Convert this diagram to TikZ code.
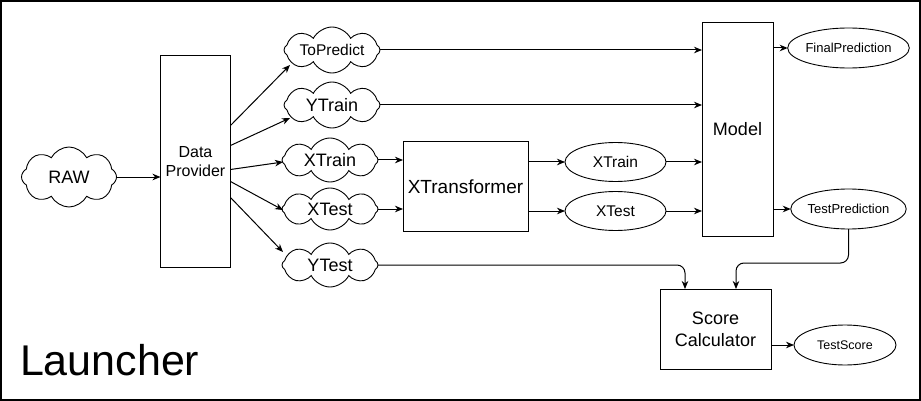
\documentclass[tikz,border=0pt]{standalone}
\usepackage{fontspec}
\setmainfont{Liberation Sans}
\usetikzlibrary{shapes.symbols,shapes.geometric,arrows.meta,calc}
\begin{document}
\begin{tikzpicture}[x=1pt,y=-1pt,
  every node/.style={inner sep=0pt, outer sep=0pt},
  box/.style={draw, line width=1pt, align=center},
  cld/.style={draw, cloud, cloud puffs=8, cloud puff arc=125, cloud ignores aspect, minimum width=96pt, minimum height=44pt, line width=0.9pt},
  oval/.style={draw, ellipse, minimum width=101pt, minimum height=39pt, line width=0.9pt},
  arr/.style={line width=1pt, -{Stealth[length=8pt,width=6.5pt,inset=2.5pt]}},
  fa/.style={font=\fontsize{18}{21}\selectfont},
  fb/.style={font=\fontsize{15.5}{18}\selectfont},
  fc/.style={font=\fontsize{16}{19}\selectfont},
  fd/.style={font=\fontsize{19}{22}\selectfont},
  fe/.style={font=\fontsize{13}{15}\selectfont},
  ff/.style={font=\fontsize{12.5}{15}\selectfont},
  fsc/.style={font=\fontsize{18}{22}\selectfont}
]
\useasboundingbox (0,0) rectangle (921,401);
\draw[line width=1.2pt] (1,1) rectangle (920,400);

\node[cld, fa, minimum width=95pt, minimum height=60pt] (raw) at (69,177) {RAW};
\node[box, fc, minimum width=70pt, minimum height=212pt] (dp) at (195.5,161.5) {Data\\Provider};

\node[cld, fb, minimum height=46pt] (tp) at (332,50) {ToPredict};
\node[cld, fa, minimum height=46pt] (yt) at (332,105) {YTrain};
\node[cld, fa] (xt) at (330,160) {XTrain};
\node[cld, fa, minimum height=42pt] (xs) at (330,209) {XTest};
\node[cld, fa] (ys) at (330,265) {YTest};

\node[box, fd, minimum width=125pt, minimum height=89pt] (xtr) at (465.5,186.5) {XTransformer};
\node[oval, fb] (e1) at (615.5,162) {XTrain};
\node[oval, fb] (e2) at (615.5,211) {XTest};
\node[box, fa, minimum width=71pt, minimum height=213pt] (model) at (737.5,129.5) {Model};
\node[oval, fe, minimum height=40pt] (fp) at (848.5,48) {FinalPrediction};
\node[oval, fe, minimum height=40pt] (tpr) at (848.5,209) {TestPrediction};
\node[box, fsc, minimum width=111pt, minimum height=80pt] (sc) at (715.5,329) {Score\\Calculator};
\node[oval, ff, minimum width=102pt, minimum height=40pt] (ts) at (845,345) {TestScore};

\node[anchor=base west, font=\fontsize{43}{48}\selectfont] (lbl) at (20,375) {Launcher};

\draw[arr] (raw.east) -- (raw.east -| dp.west);
\draw[arr] ($(dp.north east)+(0,70)$) -- ($(tp.center)+(-42,15)$);
\draw[arr] ($(dp.north east)+(0,90)$) -- ($(yt.center)+(-42,13)$);
\draw[arr] ($(dp.north east)+(0,114)$) -- ($(xt.center)+(-47,2)$);
\draw[arr] ($(dp.north east)+(0,126)$) -- ($(xs.center)+(-47,1)$);
\draw[arr] ($(dp.north east)+(0,142)$) -- ($(ys.center)+(-47,-13)$);

\draw[arr] (tp.east) -- (tp.east -| model.west);
\draw[arr] (yt.east) -- (yt.east -| model.west);
\draw[arr] (xt.east) -- (xt.east -| xtr.west);
\draw[arr] (xs.east) -- (xs.east -| xtr.west);
\draw[arr] (e1.west -| xtr.east) -- (e1.west);
\draw[arr] (e2.west -| xtr.east) -- (e2.west);
\draw[arr] (e1.east) -- (e1.east -| model.west);
\draw[arr] (e2.east) -- (e2.east -| model.west);
\draw[arr] (fp.west -| model.east) -- (fp.west);
\draw[arr] (tpr.west -| model.east) -- (tpr.west);

\draw[arr, rounded corners=8pt] (ys.east) -| ($(sc.north west)+(25,0)$);
\draw[arr, rounded corners=8pt] (tpr.south) |- ($(sc.north west)+(76,-26)$) -- ($(sc.north west)+(76,0)$);
\draw[arr] (ts.west -| sc.east) -- (ts.west);
\end{tikzpicture}
\end{document}
